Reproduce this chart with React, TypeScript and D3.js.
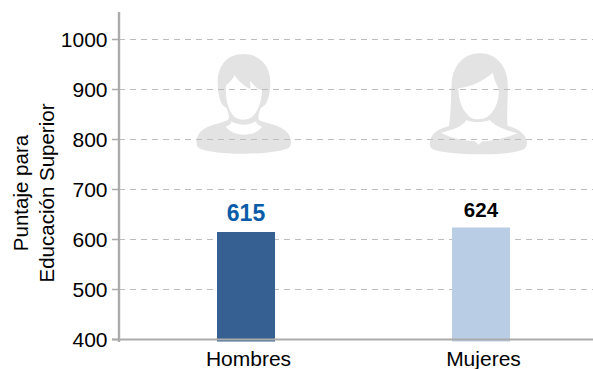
import React from "react";
import * as d3 from "d3";

const categories = ["Hombres", "Mujeres"];
const values = [615, 624];
const barColors = ["#376092", "#B9CDE5"];
const labelColors = ["#0B5CA8", "#000000"];
const labelSizes = [23, 20.5];
const labelGaps = [11, 10.5];
const ticks = [400, 500, 600, 700, 800, 900, 1000];
const yTitle = ["Puntaje para", "Educación Superior"];

const W = 593, H = 369;
const FONT = "'Liberation Sans', Arial, sans-serif";
const y = d3.scaleLinear().domain([400, 1000]).range([339.5, 39.5]);
const x = d3.scaleBand<string>().domain(categories).range([217, 510]).paddingInner(0.753).paddingOuter(0);
const ICON = "#E3E3E3";

const Man = ({ tx }: { tx: number }) => (
  <g transform={`translate(${tx},40) scale(0.3333)`}>
    <path fill={ICON} d="M160 42 C105 42 83 85 83 125 C83 155 88 180 98 196 L110 205 C116 222 120 232 113 241 C90 252 45 256 28 280 C20 292 17 305 22 320 C50 348 270 348 300 320 C306 305 302 292 294 280 C275 256 232 252 208 241 C202 232 206 222 212 205 L226 194 C236 180 241 155 241 125 C241 85 215 42 160 42 Z" />
    <path fill="#fff" d="M108 135 C120 128 128 118 134 105 C145 125 165 140 182 147 L180 122 C192 135 200 145 206 148 L216 150 C216 180 205 215 185 232 C170 242 150 242 135 232 C115 215 105 175 108 135 Z" />
    <path fill="#fff" d="M107 260 C120 254 128 250 122 243 C150 258 172 258 200 243 C195 250 205 254 216 260 C195 292 130 292 107 260 Z" />
  </g>
);

const Woman = ({ tx }: { tx: number }) => (
  <g transform={`translate(${tx},40) scale(0.3333)`}>
    <path fill={ICON} d="M165 40 C110 40 82 85 80 130 C78 170 78 220 72 258 C50 265 25 272 17 298 C12 312 14 322 24 328 C70 348 260 348 296 328 C306 322 308 310 304 298 C296 275 270 264 248 258 C244 220 250 170 248 125 C245 80 215 40 165 40 Z" />
    <path fill="#fff" d="M100 145 C140 140 180 120 203 98 C208 120 215 135 222 147 C222 185 210 215 185 232 C170 240 148 240 133 230 C112 212 100 180 100 145 Z" />
    <path fill="#fff" d="M48 278 C80 270 110 262 125 240 C140 248 175 248 195 240 C208 258 240 270 278 280 C240 296 190 304 172 304 L161 314 L150 304 C120 302 80 296 48 278 Z" />
  </g>
);

export default function App() {
  return (
    <svg width={W} height={H} style={{ position: "fixed", left: 0, top: 0, background: "#fff" }} fontFamily={FONT}>
      <Man tx={190} />
      <Woman tx={425} />

      {ticks.filter((t) => t > 400).map((t) => (
        <line key={t} x1={119} x2={593} y1={y(t)} y2={y(t)} stroke="#BDBDBD" strokeWidth={1} strokeDasharray="6 5" />
      ))}

      {categories.map((c, i) => (
        <rect key={c} x={x(c)} width={x.bandwidth()} y={y(values[i])} height={y(400) - y(values[i]) + 2} fill={barColors[i]} />
      ))}

      <line x1={112} x2={593} y1={y(400)} y2={y(400)} stroke="#ABABAB" strokeWidth={2.2} />
      <line x1={119} x2={119} y1={12} y2={342} stroke="#ABABAB" strokeWidth={2.4} />
      {ticks.map((t) => (
        <line key={t} x1={112} x2={119} y1={y(t)} y2={y(t)} stroke="#ABABAB" strokeWidth={1.5} />
      ))}

      {ticks.map((t) => (
        <text key={t} x={107.5} y={y(t) + 7.5} textAnchor="end" fontSize={21} fill="#000">{t}</text>
      ))}

      {categories.map((c) => (
        <text key={c} x={x(c)! + x.bandwidth() / 2 + 2.5} y={365.5} textAnchor="middle" fontSize={21} fill="#000">{c}</text>
      ))}

      {categories.map((c, i) => (
        <text key={c} x={x(c)! + x.bandwidth() / 2} y={y(values[i]) - labelGaps[i]} textAnchor="middle" fontSize={labelSizes[i]} fontWeight="bold" fill={labelColors[i]}>{values[i]}</text>
      ))}

      <text transform="translate(28,193) rotate(-90)" textAnchor="middle" fontSize={20.5} fill="#000">
        {yTitle.map((l, i) => (
          <tspan key={l} x={0} dy={i === 0 ? 0 : 26}>{l}</tspan>
        ))}
      </text>
    </svg>
  );
}
